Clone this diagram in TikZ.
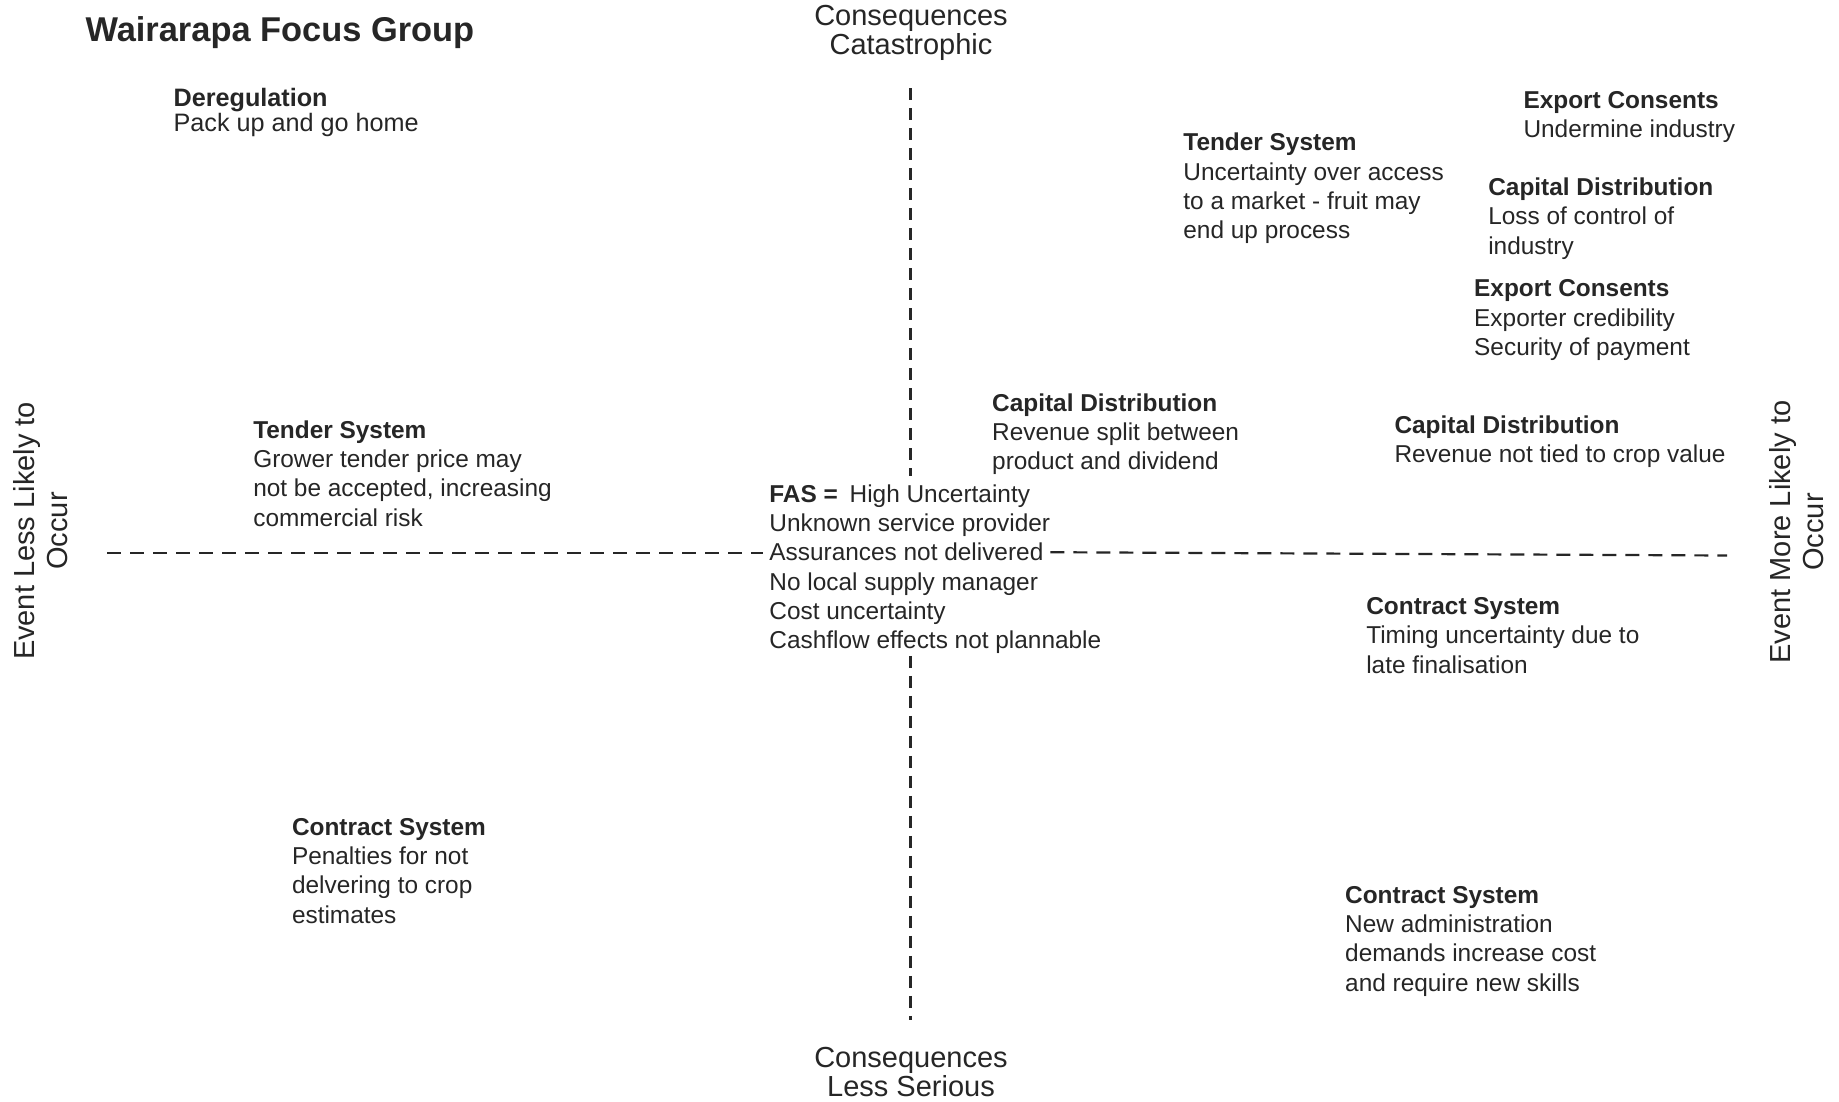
\documentclass[tikz,border=0pt]{standalone}
\usepackage{fontspec}
\setmainfont{Liberation Sans}
\definecolor{ink}{HTML}{262626}
\begin{document}
\begin{tikzpicture}[x=1pt,y=-1pt,
  every node/.style={inner sep=0pt, outer sep=0pt, text=ink},
  heading/.style={anchor=north west, font=\bfseries\fontsize{34.4}{40}\selectfont},
  body/.style={anchor=north west, align=left, font=\fontsize{24.4}{29.3}\selectfont},
  bodyline/.style={anchor=base west, font=\fontsize{24.4}{29.3}\selectfont},
  axislabel/.style={anchor=north, align=center, font=\fontsize{29}{29.5}\selectfont},
  sidelabel/.style={align=center, rotate=90, font=\fontsize{29}{33}\selectfont},
  hdash/.style={draw=ink, line width=2.2pt, dash pattern=on 14pt off 9pt},
  vdash/.style={draw=ink, line width=2.2pt, dash pattern=on 12pt off 8pt},
]
\useasboundingbox (0,0) rectangle (1839,1101);
\fill[white] (0,0) rectangle (1839,1101);

% title and axis labels
\node[heading] (title) at (85.6,17) {Wairarapa Focus Group};
\node[axislabel] (ctop) at (911,5) {Consequences\\Catastrophic};
\node[axislabel] (cbot) at (911,1047) {Consequences\\Less Serious};
\node[sidelabel] (lleft) at (40.5,531) {Event Less Likely to\\Occur};
\node[sidelabel] (lright) at (1796.5,532) {Event More Likely to\\Occur};

% risk items
\node[body, font=\fontsize{25.2}{25}\selectfont] (dereg) at (173.6,88.6) {\textbf{Deregulation}\\Pack up and go home};
\node[body] (expA) at (1523.5,91) {\textbf{Export Consents}\\Undermine industry};
\node[body] (tendA) at (1183.4,133.2) {\textbf{Tender System}\\Uncertainty over access\\to a market - fruit may\\end up process};
\node[body] (capA) at (1488.3,177.8) {\textbf{Capital Distribution}\\Loss of control of\\industry};
\node[body] (expB) at (1474.2,279.8) {\textbf{Export Consents}\\Exporter credibility\\Security of payment};
\node[body] (capB) at (992.2,393.6) {\textbf{Capital Distribution}\\Revenue split between\\product and dividend};
\node[body] (capC) at (1394.5,415.9) {\textbf{Capital Distribution}\\Revenue not tied to crop value};
\node[body] (tendB) at (253.3,420.5) {\textbf{Tender System}\\Grower tender price may\\not be accepted, increasing\\commercial risk};
\node[body] (contA) at (1366.3,597.6) {\textbf{Contract System}\\Timing uncertainty due to\\late finalisation};
\node[body] (contB) at (292,818.1) {\textbf{Contract System}\\Penalties for not\\delvering to crop\\estimates};
\node[body] (contC) at (1345.2,886.1) {\textbf{Contract System}\\New administration\\demands increase cost\\and require new skills};

% FAS block at the centre, one node per line
\node[bodyline] (fas1) at (769.4,502.3) {\textbf{FAS =}\hspace{5pt} High Uncertainty};
\node[bodyline] (fas2) at (769.4,531.6) {Unknown service provider};
\node[bodyline] (fas3) at (769.4,560.9) {Assurances not delivered};
\node[bodyline] (fas4) at (769.4,590.2) {No local supply manager};
\node[bodyline] (fas5) at (769.4,619.5) {Cost uncertainty};
\node[bodyline] (fas6) at (769.4,648.8) {Cashflow effects not plannable};

% axes
\coordinate (hl) at (107,552.7);
\coordinate (hr) at (1727,555.5);
\coordinate (vt) at (910.5,88);
\coordinate (vb) at (910.5,1020);
\draw[hdash, shorten >=6pt] (hl) -- (hl -| fas3.west);
\draw[hdash, shorten <=7pt] (fas3.east) -- (hr);
\draw[vdash, shorten >=9pt] (vt) -- (vt |- fas1.north);
\draw[vdash, shorten <=2pt] (vt |- fas6.south) -- (vb);
\end{tikzpicture}
\end{document}
